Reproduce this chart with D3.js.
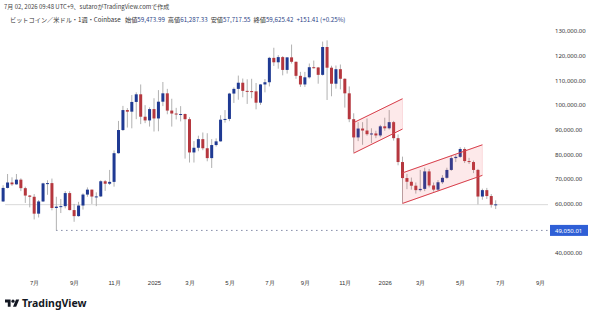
<!DOCTYPE html>
<html>
<head>
<meta charset="utf-8">
<script src="https://cdn.jsdelivr.net/npm/d3@7"></script>
<style>
  body { margin: 0; background: #fff; }
  svg { display: block; font-family: "Noto Sans CJK JP", "Noto Sans", sans-serif; }
</style>
</head>
<body>
<svg width="600" height="319"></svg>
<script>
// weekly BTC/USD (Coinbase), one candle per Monday
const firstWeek = "2024-05-13";
const lastWeek = "2026-06-29";

const opens = [
  60800, 66300, 68500, 67750, 69650, 66200, 63200, 62700, 55850, 60800, 68150, 68250, 58150, 58700, 58900, 64200, 57300, 54850, 59150, 63600, 65600, 62800, 62850, 69000, 68000, 68750, 80400, 89800, 97900, 97250, 101200, 104300, 95200, 93700,
  98300, 94500, 101300, 104700, 97700, 96500, 96100, 96300, 94200, 80700, 82600, 86100, 82400, 78400, 83700, 85200, 94000, 94300, 104600, 106500, 109000, 105700, 105600, 105500, 100900, 108300, 109200, 119100, 117300, 119400, 114200, 119300, 117500, 111800, 108300, 111200, 115300, 115200, 112200, 123500, 115100, 108600, 114500, 110600, 104700, 94200, 86800, 90400, 89600, 88100, 88400, 87600,
  91300, 90500, 93000, 86500, 76800, 70300, 68800, 67200, 65400, 65900, 73000, 67300, 65600, 68600, 70400, 73600, 78400, 78900, 82100, 77200, 76800, 73600, 62800, 65400, 63000, 59473.99
];
const highs = [
  67400, 71950, 70600, 71950, 70200, 66800, 63400, 63800, 61400, 68400, 69400, 70100, 62700, 61800, 65000, 64950, 59800, 60650, 64100, 66500, 65600, 64500, 69400, 69500, 73600, 81500, 93500, 99600, 98700, 104000, 105100, 108300, 99900, 99000,
  102700, 106000, 109300, 106500, 102500, 98800, 99500, 96500, 95000, 85300, 87500, 88800, 88500, 86100, 86400, 95800, 97900, 104900, 107100, 111900, 110700, 110400, 110600, 108900, 108500, 110500, 119500, 123200, 120200, 119800, 119300, 124500, 117600, 113400, 113400, 116800, 118000, 115400, 125700, 126200, 115900, 116000, 116400, 110800, 107500, 96600, 93000, 93000, 94500, 90500, 89500, 91900,
  94800, 97900, 93500, 88000, 79000, 72000, 70500, 68500, 73600, 74500, 74000, 68500, 69500, 71500, 74500, 79300, 79800, 82800, 82800, 78500, 77400, 74000, 66000, 66300, 63800, 61287.33
];
const lows = [
  60600, 66100, 67100, 67600, 65000, 60200, 58400, 53500, 54300, 60600, 63500, 57200, 49050.01, 56100, 58000, 57200, 52550, 54600, 57500, 62700, 59800, 58900, 62600, 65100, 67500, 66800, 80200, 89400, 90800, 90500, 94200, 92200, 92600, 91200,
  89200, 89300, 99500, 96200, 91200, 94100, 93300, 78200, 76600, 76600, 81200, 81600, 77100, 74400, 83100, 85100, 92800, 93400, 100800, 102100, 103100, 100400, 102700, 98200, 100000, 105100, 107500, 115800, 114700, 112000, 112700, 116800, 110600, 107300, 107300, 110700, 114800, 108600, 111900, 102000, 103500, 106600, 106300, 98900, 93000, 80600, 85300, 83800, 87500, 84500, 86500, 86900,
  89500, 90000, 85500, 75500, 60100, 65800, 65600, 64000, 64800, 65000, 66500, 64800, 65000, 67900, 70000, 73200, 76800, 78500, 76400, 76000, 72300, 59600, 61500, 61800, 58300, 57717.55
];
const closes = [
  66300, 68500, 67750, 69650, 66200, 63200, 62700, 55850, 60800, 68150, 68250, 58150, 58700, 58900, 64200, 57300, 54850, 59150, 63600, 65600, 62800, 62850, 69000, 68000, 68750, 80400, 89800, 97900, 97250, 101200, 104300, 95200, 93700, 98300,
  94500, 101300, 104700, 97700, 96500, 96100, 96300, 94200, 80700, 82600, 86100, 82400, 78400, 83700, 85200, 94000, 94300, 104600, 106500, 109000, 105700, 105600, 105500, 100900, 108300, 109200, 119100, 117300, 119400, 114200, 119300, 117500, 111800, 108300, 111200, 115300, 115200, 112200, 123500, 115100, 108600, 114500, 110600, 104700, 94200, 86800, 90400, 89600, 88100, 88400, 87600, 91300,
  90500, 93000, 86500, 76800, 70300, 68800, 67200, 65400, 65900, 73000, 67300, 65600, 68600, 70400, 73600, 78400, 78900, 82100, 77200, 76800, 73600, 62800, 65400, 63000, 59474.01, 59625.42
];

// 50,000 is hidden behind the low marker label
const yTicks = [40000, 60000, 70000, 80000, 90000, 100000, 110000, 120000, 130000];
const xTickMonths = ["2024-07", "2024-09", "2024-11", "2025-01", "2025-03", "2025-05", "2025-07", "2025-09", "2025-11", "2026-01", "2026-03", "2026-05", "2026-07", "2026-09"];
const xTickLabels = ["7月", "9月", "11月", "2025", "3月", "5月", "7月", "9月", "11月", "2026", "3月", "5月", "7月", "9月"];

// drawings on the chart
const channel1Dates = ["2025-11-17", "2026-02-02"];
const channel1Upper = [92800, 102500];
const channel1Lower = [80400, 90200];
const channel2Dates = ["2026-02-02", "2026-06-08"];
const channel2Upper = [72400, 83800];
const channel2Lower = [60000, 71400];
const lowMarkDate = "2024-08-05";
const lowMark = 49050.01;
const hLineDate = "2024-05-13";
const hLine = 59500;

const svg = d3.select("svg");
const parse = d3.utcParse("%Y-%m-%d");
const plotRight = 548;

const weeks = d3.utcMonday.range(parse(firstWeek), d3.utcDay.offset(parse(lastWeek), 1));
const candles = weeks.map(function(d, i) {
  return {date: d, o: opens[i], h: highs[i], l: lows[i], c: closes[i]};
});

const x = d3.scaleUtc()
  .domain([parse("2025-01-06"), parse("2026-06-29")])
  .range([154, 495.7]);
const y = d3.scaleLinear()
  .domain([40000, 130000])
  .range([252.7, 31]);

const blue = "#1f3a93", red = "#b5373e";

// header
const f2 = d3.format(",.2f");
svg.append("text")
  .attr("x", 4).attr("y", 9)
  .attr("font-size", 6).attr("fill", "#444")
  .text("7月 02, 2026 09:48 UTC+9、sutaroがTradingView.comで作成");

const last = candles[candles.length - 1];
const prevClose = closes[closes.length - 2];
const chg = last.c - prevClose;
const head = svg.append("text")
  .attr("x", 10).attr("y", 22)
  .attr("font-size", 6.2).attr("fill", "#333");
head.append("tspan").text("ビットコイン／米ドル・1週・Coinbase  ");
[["始値", last.o], ["高値", last.h], ["安値", last.l], ["終値", last.c]].forEach(function(p) {
  head.append("tspan").attr("dx", 3).text(p[0]);
  head.append("tspan").attr("fill", "#2b3f86").text(f2(p[1]));
});
head.append("tspan").attr("dx", 3).attr("fill", "#2b3f86")
  .text(d3.format("+,.2f")(chg) + " (" + d3.format("+.2f")(chg / prevClose * 100) + "%)");

// horizontal line and the dotted low marker
svg.append("line")
  .attr("x1", x(parse(hLineDate)) + 2).attr("x2", plotRight)
  .attr("y1", y(hLine)).attr("y2", y(hLine))
  .attr("stroke", "#d9d9d9").attr("stroke-width", 1);

svg.append("line")
  .attr("x1", x(parse(lowMarkDate))).attr("x2", plotRight)
  .attr("y1", y(lowMark)).attr("y2", y(lowMark))
  .attr("stroke", "#44507a").attr("stroke-width", 1)
  .attr("stroke-dasharray", "1,4");

// candles
const g = svg.append("g");
g.selectAll("line.wick")
  .data(candles)
  .join("line")
  .attr("class", "wick")
  .attr("x1", function(d) { return x(d.date); })
  .attr("x2", function(d) { return x(d.date); })
  .attr("y1", function(d) { return y(d.h); })
  .attr("y2", function(d) { return y(d.l); })
  .attr("stroke", "#a8a8a8").attr("stroke-width", 0.9);

g.selectAll("rect.body")
  .data(candles)
  .join("rect")
  .attr("class", "body")
  .attr("x", function(d) { return x(d.date) - 1.5; })
  .attr("width", 3)
  .attr("y", function(d) { return y(Math.max(d.o, d.c)); })
  .attr("height", function(d) { return Math.max(1, Math.abs(y(d.o) - y(d.c))); })
  .attr("fill", function(d) { return d.c >= d.o ? blue : red; });

// parallel channels
function channel(dates, upper, lower) {
  const x0 = x(parse(dates[0])), x1 = x(parse(dates[1]));
  const pts = [[x0, y(upper[0])], [x1, y(upper[1])], [x1, y(lower[1])], [x0, y(lower[0])]];
  svg.append("path")
    .attr("d", d3.line()(pts) + "Z")
    .attr("fill", "rgba(235, 70, 85, 0.12)")
    .attr("stroke", "rgba(235, 70, 85, 0.18)").attr("stroke-width", 0.8);
  svg.append("line")
    .attr("x1", x0).attr("y1", y(upper[0])).attr("x2", x1).attr("y2", y(upper[1]))
    .attr("stroke", "#d8404c").attr("stroke-width", 1);
  svg.append("line")
    .attr("x1", x0).attr("y1", y(lower[0])).attr("x2", x1).attr("y2", y(lower[1]))
    .attr("stroke", "#d8404c").attr("stroke-width", 1);
}
channel(channel1Dates, channel1Upper, channel1Lower);
channel(channel2Dates, channel2Upper, channel2Lower);

// price axis
const yAxis = svg.append("g")
  .attr("transform", "translate(552,0)")
  .call(d3.axisRight(y).tickValues(yTicks).tickFormat(f2).tickSize(0).tickPadding(3));
yAxis.select(".domain").remove();
yAxis.selectAll("text").attr("font-size", 6).attr("fill", "#333").attr("font-family", "'Noto Sans', sans-serif");

// low marker label
svg.append("rect")
  .attr("x", 550).attr("y", y(lowMark) - 5.5)
  .attr("width", 38).attr("height", 11)
  .attr("fill", "#2f5fd6");
svg.append("text")
  .attr("x", 555).attr("y", y(lowMark) + 2.1)
  .attr("font-size", 6).attr("fill", "#fff").attr("font-family", "'Noto Sans', sans-serif")
  .text(f2(lowMark));

// time axis
const xAxis = svg.append("g")
  .attr("transform", "translate(0,277.5)")
  .call(d3.axisBottom(x)
    .tickValues(xTickMonths.map(function(m) { return d3.utcMonday.ceil(parse(m + "-01")); }))
    .tickFormat(function(d, i) { return xTickLabels[i]; })
    .tickSize(0).tickPadding(3));
xAxis.select(".domain").remove();
xAxis.selectAll("text").attr("font-size", 6).attr("fill", "#333");

// TradingView mark
const logo = svg.append("g").attr("transform", "translate(5,298) scale(0.4)");
logo.append("path").attr("d", "M14 22H7V11H0V4h14v18z").attr("fill", "#131722");
logo.append("circle").attr("cx", 20).attr("cy", 8).attr("r", 4).attr("fill", "#131722");
logo.append("path").attr("d", "M28 22h-8l7.5-18h8L28 22z").attr("fill", "#131722");
svg.append("text")
  .attr("x", 22).attr("y", 307)
  .attr("font-size", 10.5).attr("font-weight", "bold")
  .attr("font-family", "'Noto Sans', sans-serif")
  .attr("fill", "#131722")
  .text("TradingView");
</script>
</body>
</html>
